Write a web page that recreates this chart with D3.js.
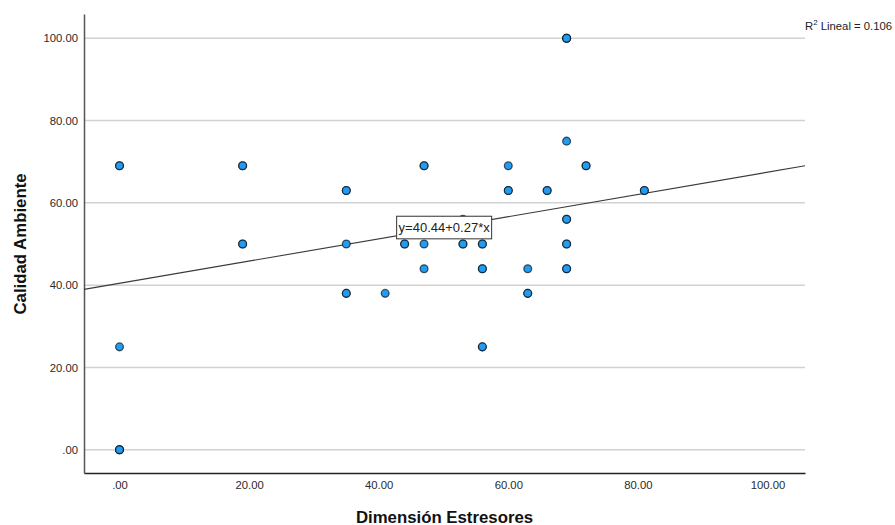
<!DOCTYPE html>
<html>
<head>
<meta charset="utf-8">
<script src="https://cdn.jsdelivr.net/npm/d3@7/dist/d3.min.js"></script>
<style>
  html, body { margin: 0; padding: 0; background: #fff; }
  svg { display: block; font-family: "Liberation Sans", Arial, sans-serif; }
</style>
</head>
<body>
<svg id="chart" width="895" height="525"></svg>
<script>
// Dimensión Estresores (x) vs Calidad Ambiente (y); one entry per plotted location,
// with the number of cases stacked on it.
const estresores = [0, 0, 0, 19, 19, 35, 35, 35, 41, 44, 47, 47, 47, 53, 53, 56, 56, 56, 60, 60, 63, 63, 66, 69, 69, 69, 69, 69, 72, 81];
const calidad    = [69, 25, 0, 69, 50, 63, 50, 38, 38, 50, 69, 50, 44, 56, 50, 50, 44, 25, 69, 63, 44, 38, 63, 100, 75, 56, 50, 44, 69, 63];
const casos      = [2, 1, 3, 2, 2, 2, 1, 2, 1, 2, 2, 1, 1, 1, 2, 2, 2, 2, 1, 2, 1, 2, 2, 3, 1, 2, 2, 2, 2, 2];

// Linear fit reported for the data
const intercepto = 40.44;
const pendiente = 0.27;
const r2 = 0.106;

const xTicks = [0, 20, 40, 60, 80, 100];
const yTicks = [0, 20, 40, 60, 80, 100];

const svg = d3.select("#chart");

const x = d3.scaleLinear().domain([-5.48, 105.79]).range([84, 805]);
const y = d3.scaleLinear().domain([-5.66, 105.9]).range([473, 14]);

const fmt = v => d3.format(".2f")(v).replace(/^0\./, ".");

// Horizontal gridlines
svg.append("g")
  .selectAll("line")
  .data(yTicks)
  .join("line")
  .attr("x1", x.range()[0])
  .attr("x2", x.range()[1])
  .attr("y1", d => y(d))
  .attr("y2", d => y(d))
  .attr("stroke", "#d2d2d2")
  .attr("stroke-width", 1.5);

// Axes (labels only, no tick marks)
const xAxis = svg.append("g")
  .attr("transform", `translate(0,${y.range()[0]})`)
  .call(d3.axisBottom(x).tickValues(xTicks).tickFormat(fmt).tickSize(0).tickPadding(8));
xAxis.select(".domain").attr("stroke", "#222").attr("stroke-width", 1.5);

const yAxis = svg.append("g")
  .attr("transform", `translate(${x.range()[0]},0)`)
  .call(d3.axisLeft(y).tickValues(yTicks).tickFormat(fmt).tickSize(0).tickPadding(6));
yAxis.select(".domain").attr("stroke", "#555").attr("stroke-width", 1.5);

svg.selectAll(".tick text")
  .attr("font-family", "'Liberation Sans', Arial, sans-serif")
  .attr("font-size", 11.3)
  .attr("fill", "#2a2a2a");

// Regression line across the full x range
const [x0, x1] = x.domain();
svg.append("line")
  .attr("x1", x(x0)).attr("y1", y(intercepto + pendiente * x0))
  .attr("x2", x(x1)).attr("y2", y(intercepto + pendiente * x1))
  .attr("stroke", "#3a3a3a")
  .attr("stroke-width", 1.1);

// Points: one circle per case, so stacked cases get a darker outline
const puntos = [];
estresores.forEach((v, i) => {
  for (let k = 0; k < casos[i]; k++) puntos.push({ x: v, y: calidad[i] });
});
svg.append("g")
  .selectAll("circle")
  .data(puntos)
  .join("circle")
  .attr("cx", d => x(d.x))
  .attr("cy", d => y(d.y))
  .attr("r", 3.9)
  .attr("fill", "#239bf0")
  .attr("stroke", "rgba(0,0,0,0.62)")
  .attr("stroke-width", 1.3);

// Equation label box
const eqX = 50.1, eqY = 54.0;
const eqG = svg.append("g").attr("transform", `translate(${x(eqX)},${y(eqY)})`);
eqG.append("rect")
  .attr("x", -47.5).attr("y", -11.3)
  .attr("width", 95).attr("height", 22.6)
  .attr("fill", "#fff")
  .attr("stroke", "#333")
  .attr("stroke-width", 1);
eqG.append("text")
  .attr("x", 0).attr("y", 4.6)
  .attr("text-anchor", "middle")
  .attr("font-size", 13)
  .attr("fill", "#222")
  .text(`y=${intercepto.toFixed(2)}+${pendiente.toFixed(2)}*x`);

// R² annotation
const r2t = svg.append("text")
  .attr("x", 805).attr("y", 30)
  .attr("font-size", 11.3)
  .attr("fill", "#222");
r2t.append("tspan").text("R");
r2t.append("tspan").attr("font-size", 8).attr("dy", -5).text("2");
r2t.append("tspan").attr("dy", 5).text(` Lineal = ${r2.toFixed(3)}`);

// Axis titles
svg.append("text")
  .attr("x", (x.range()[0] + x.range()[1]) / 2)
  .attr("y", 522.5)
  .attr("text-anchor", "middle")
  .attr("font-size", 16.8)
  .attr("font-weight", "bold")
  .attr("fill", "#111")
  .text("Dimensión Estresores");

svg.append("text")
  .attr("transform", `translate(25.5,244) rotate(-90)`)
  .attr("text-anchor", "middle")
  .attr("font-size", 16.8)
  .attr("font-weight", "bold")
  .attr("fill", "#111")
  .text("Calidad Ambiente");
</script>
</body>
</html>
